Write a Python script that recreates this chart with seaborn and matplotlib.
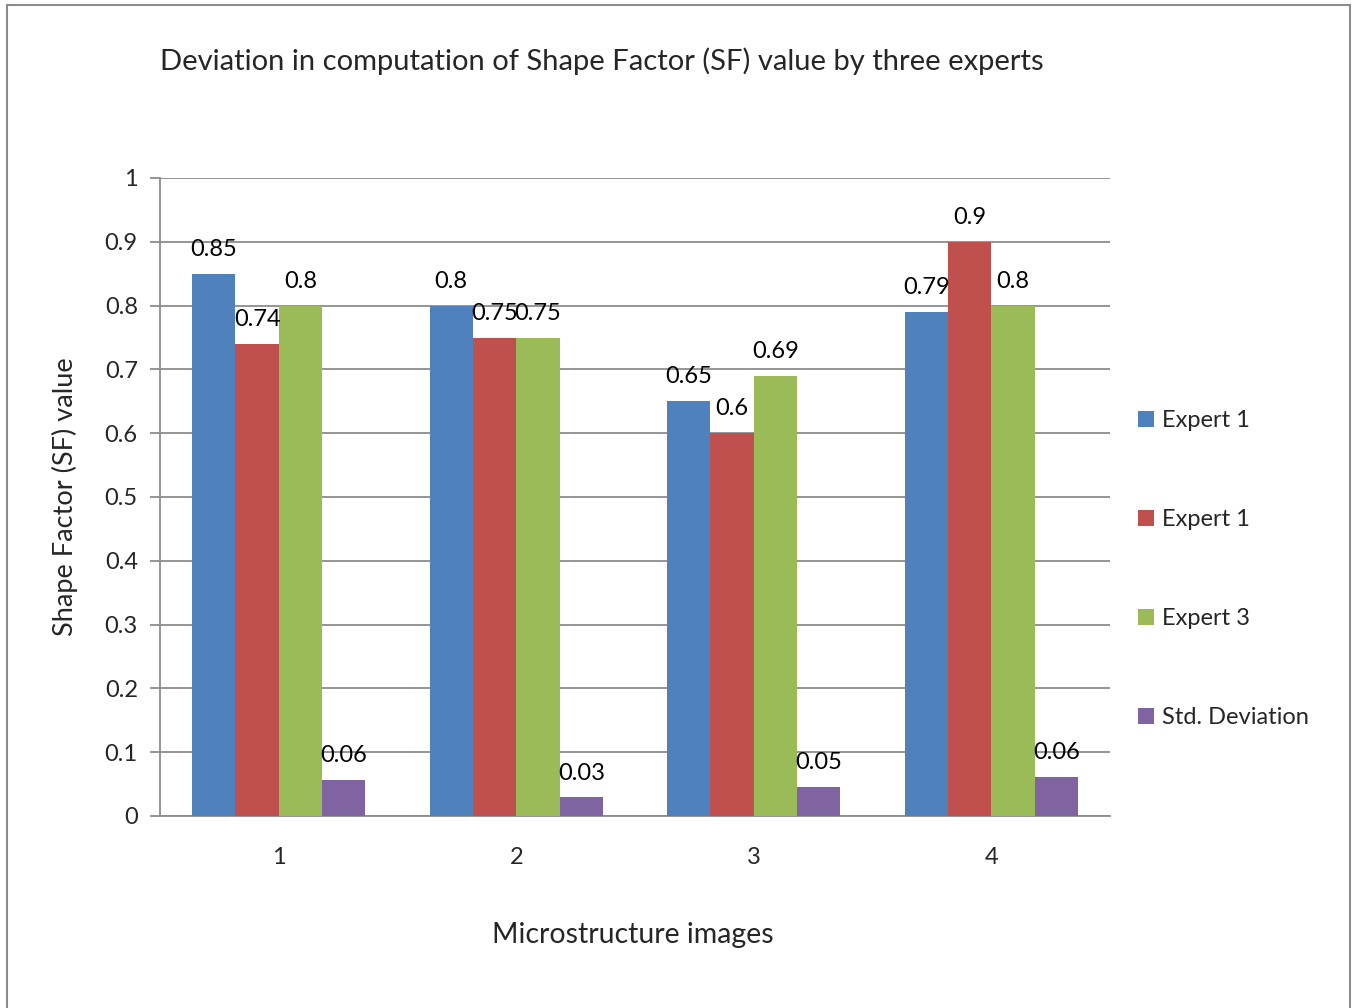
import matplotlib
matplotlib.use("Agg")
import matplotlib.pyplot as plt
from matplotlib.patches import Rectangle
from matplotlib.ticker import MultipleLocator
import seaborn as sns
import pandas as pd

# ── data ──────────────────────────────────────────────────────────────────────
images = ["1", "2", "3", "4"]
expert_1 = [0.85, 0.80, 0.65, 0.79]
expert_2 = [0.74, 0.75, 0.60, 0.90]
expert_3 = [0.80, 0.75, 0.69, 0.80]
std_dev = [0.056, 0.029, 0.046, 0.061]

series_keys = ["Expert 1", "Expert 2", "Expert 3", "Std. Deviation"]
legend_names = ["Expert 1", "Expert 1", "Expert 3", "Std. Deviation"]  # as printed in the original
colors = ["#4F81BD", "#C0504D", "#9BBB59", "#8064A2"]

rows = []
for key, vals in zip(series_keys, [expert_1, expert_2, expert_3, std_dev]):
    for img, v in zip(images, vals):
        rows.append({"image": img, "series": key, "value": v})
df = pd.DataFrame(rows)

# ── plot ──────────────────────────────────────────────────────────────────────
sns.set_theme(style="white")
plt.rcParams["font.family"] = ["Lato", "DejaVu Sans"]

fig = plt.figure(figsize=(13.52, 10.08), dpi=100)
ax = fig.add_axes([160 / 1352, 1 - 816 / 1008, 950 / 1352, 638 / 1008])

sns.barplot(data=df, x="image", y="value", hue="series", hue_order=series_keys,
            palette=colors, width=0.73, gap=0, saturation=1, linewidth=0,
            ax=ax, legend=True, zorder=3)

for i, cont in enumerate(ax.containers):
    fmt = "%.2f" if series_keys[i] == "Std. Deviation" else "%g"
    ax.bar_label(cont, fmt=fmt, padding=10, fontsize=17, color="black")

ax.set_xlim(-0.5, 3.5)
ax.set_ylim(0, 1)
ax.yaxis.set_major_locator(MultipleLocator(0.1))
ax.set_yticklabels(["0" if t == 0 else ("1" if t == 1 else f"{t:.1f}") for t in ax.get_yticks()])
ax.grid(axis="y", color="#8C8C8C", linewidth=1.3, zorder=0)
ax.set_axisbelow(True)

ax.set_xticks([0.5, 1.5, 2.5], minor=True)
ax.tick_params(axis="x", which="major", length=0, pad=22, labelsize=17)
ax.tick_params(axis="x", which="minor", length=6, width=1.3, color="#8C8C8C", direction="out")
ax.tick_params(axis="y", which="major", length=7, width=1.3, color="#8C8C8C",
               direction="out", pad=9, labelsize=17, left=True)

for side in ["top", "right"]:
    ax.spines[side].set_visible(False)
for side in ["left", "bottom"]:
    ax.spines[side].set_color("#8C8C8C")
    ax.spines[side].set_linewidth(1.3)

ax.set_xlabel("")
ax.set_ylabel("")
fig.text(65 / 1352, 1 - 497 / 1008, "Shape Factor (SF) value", rotation=90,
         ha="center", va="center", fontsize=19.5)
fig.text(633 / 1352, 1 - 935 / 1008, "Microstructure images",
         ha="center", va="center", fontsize=20.5)
fig.text(602 / 1352, 1 - 61 / 1008,
         "Deviation in computation of Shape Factor (SF) value by three experts",
         ha="center", va="center", fontsize=21)

handles, _ = ax.get_legend_handles_labels()
ax.legend(handles, legend_names, loc="center left", bbox_to_anchor=(1.02, 0.387),
          frameon=False, fontsize=17, handlelength=0.65, handleheight=0.65,
          handletextpad=0.35, labelspacing=3.3, borderaxespad=0)

# outer chart frame
fig.add_artist(Rectangle((7 / 1352, -0.02), 1343 / 1352, 1.02 - 5 / 1008,
                         transform=fig.transFigure, fill=False,
                         edgecolor="#8C8C8C", linewidth=1.5))

fig.savefig("out.png", dpi=100)
